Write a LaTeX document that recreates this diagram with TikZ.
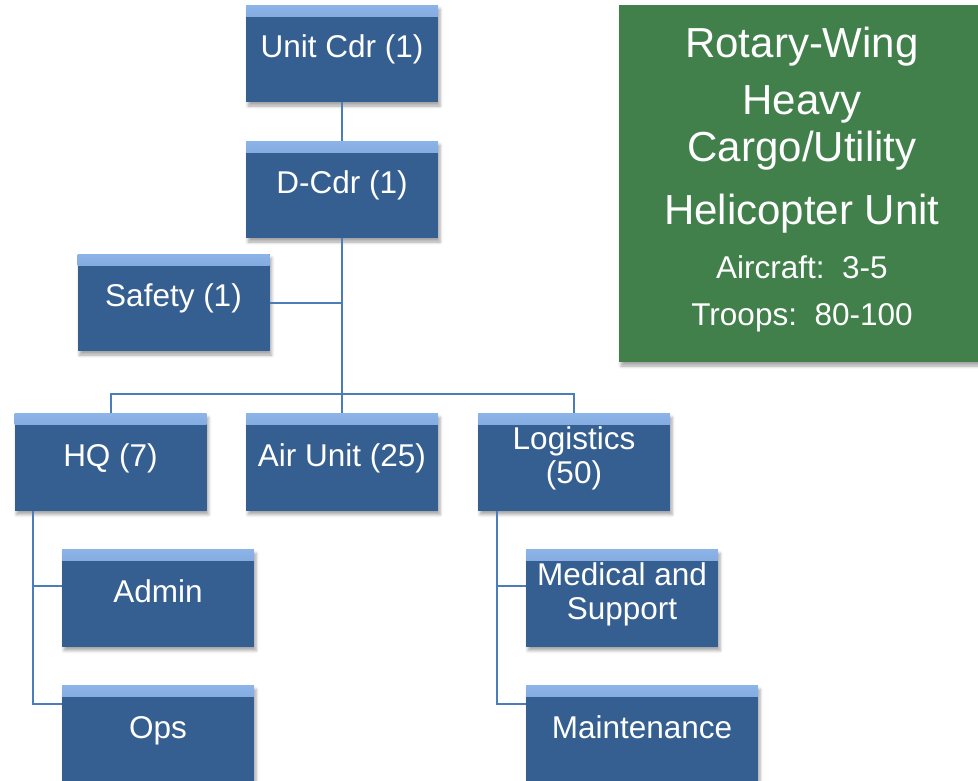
\documentclass[tikz,border=0pt]{standalone}
\usepackage{fontspec}
\setmainfont{Liberation Sans}
\usetikzlibrary{shadows.blur}
\definecolor{boxblue}{RGB}{54,95,145}
\definecolor{bandblue}{RGB}{141,180,232}
\definecolor{lineblue}{RGB}{74,126,187}
\definecolor{unitgreen}{RGB}{65,128,75}

\begin{document}
\begin{tikzpicture}[x=1pt, y=-1pt,
    orgbox/.style={rectangle, fill=boxblue, minimum width=192, minimum height=97, inner sep=0pt,
        text=white, align=center, font=\fontsize{31.5}{34}\selectfont, text depth=14pt,
        blur shadow={shadow xshift=2pt, shadow yshift=-4pt, shadow blur radius=3pt, shadow opacity=35},
        path picture={\shade[top color=bandblue, bottom color=boxblue!80!bandblue]
            (path picture bounding box.north west) rectangle ([yshift=-11pt]path picture bounding box.north east);}},
    unitbox/.style={rectangle, fill=unitgreen, minimum width=366, minimum height=357, inner sep=0pt,
        blur shadow={shadow xshift=2pt, shadow yshift=-4pt, shadow blur radius=3pt, shadow opacity=35}},
    bigtext/.style={text=white, anchor=base, font=\fontsize{42}{46}\selectfont},
    smalltext/.style={text=white, anchor=base, font=\fontsize{31.5}{34}\selectfont},
    link/.style={draw=lineblue, line width=2pt}]
    \useasboundingbox (0,0) rectangle (978,780);

    % Command line
    \node[orgbox] (uc) at (342,53.5) {Unit Cdr (1)};
    \node[orgbox] (dc) at (342,189.5) {D-Cdr (1)};
    \node[orgbox] (sf) at (173.5,302.5) {Safety (1)};

    % Sections
    \node[orgbox] (hq) at (110.5,462) {HQ (7)};
    \node[orgbox] (air) at (342,462) {Air Unit (25)};
    \node[orgbox] (lg) at (574,462) {Logistics\\(50)};

    % Sub-sections
    \node[orgbox] (ad) at (158,598) {Admin};
    \node[orgbox] (op) at (158,734) {Ops};
    \node[orgbox] (ms) at (622,598) {Medical and\\Support};
    \node[orgbox, minimum width=232] (mt) at (642,734) {Maintenance};

    % Links
    \draw[link] (uc) -- (dc);
    \draw[link] (dc) -- (air);
    \draw[link] (sf.east) -- (sf.east -| dc.south);
    \draw[link] (hq.north) -- ++(0,-19) -| (lg.north);
    \draw[link] ([xshift=19pt]hq.south west) |- ([yshift=-37pt]ad.north west);
    \draw[link] ([xshift=19pt]hq.south west) |- ([yshift=-19pt]op.north west);
    \draw[link] ([xshift=19pt]lg.south west) |- ([yshift=-37pt]ms.north west);
    \draw[link] ([xshift=19pt]lg.south west) |- ([yshift=-19pt]mt.north west);

    % Unit summary
    \node[unitbox] (unit) at (802,183.5) {};
    \node[bigtext] (rw) at (802,57) {Rotary-Wing};
    \node[bigtext] (hv) at (802,114) {Heavy};
    \node[bigtext] (cu) at (802,161) {Cargo/Utility};
    \node[bigtext] (hu) at (802,224) {Helicopter Unit};
    \node[smalltext] (ac) at (802,278) {Aircraft:~~3-5};
    \node[smalltext] (tr) at (802,325) {Troops:~~80-100};
\end{tikzpicture}
\end{document}
